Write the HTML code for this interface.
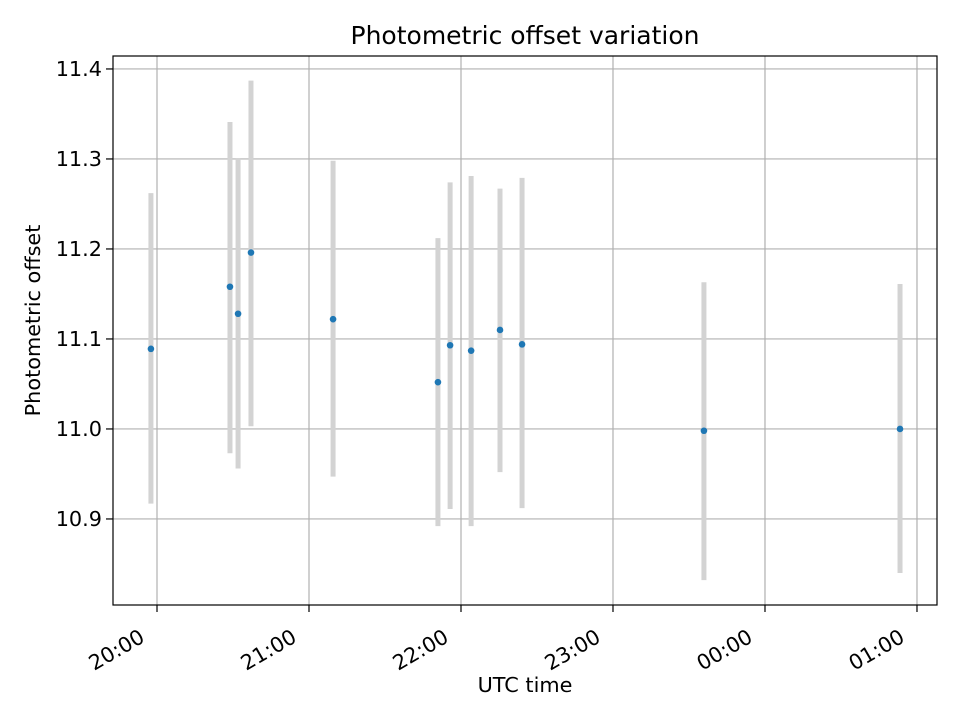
<!DOCTYPE html>
<html><head><meta charset="utf-8"><style>
body{margin:0;background:#fff;}
svg text{font-family:"DejaVu Sans","Liberation Sans",sans-serif;fill:#000;}
</style></head><body>
<svg id="chart" width="960" height="720" xmlns="http://www.w3.org/2000/svg"></svg>
<script>
const timesMin=[-2.4,28.8,32.0,37.1,69.5,110.9,115.7,124.0,135.4,144.1,215.9,293.3];
const values=[11.089,11.158,11.128,11.196,11.122,11.052,11.093,11.087,11.110,11.094,10.998,11.000];
const upper=[11.262,11.341,11.301,11.387,11.298,11.212,11.274,11.281,11.267,11.279,11.163,11.161];
const lower=[10.917,10.973,10.956,11.003,10.947,10.892,10.911,10.892,10.952,10.912,10.832,10.840];
const yTicks=[10.9,11.0,11.1,11.2,11.3,11.4];
const xTicksMin=[0,60,120,180,240,300];
const xTickLabels=["20:00","21:00","22:00","23:00","00:00","01:00"];
const L=113,R=937,T=56,B=605;
const xMin=-17.37,xMax=307.9,yMin=10.8044,yMax=11.4144;
const X=v=>L+(v-xMin)/(xMax-xMin)*(R-L);
const Y=v=>B-(v-yMin)/(yMax-yMin)*(B-T);
const svg=document.getElementById('chart');
const NS='http://www.w3.org/2000/svg';
function mk(tag,attrs,name,txt){const e=document.createElementNS(NS,tag);for(const k in attrs)e.setAttribute(k,attrs[k]);


if(txt!==undefined)e.textContent=txt;svg.appendChild(e);return e;}
mk('rect',{x:L,y:T,width:R-L,height:B-T,fill:'#fff'},'plot-area');
yTicks.forEach(t=>{const y=Y(t);
mk('line',{x1:L,x2:R,y1:y,y2:y,stroke:'#b0b0b0','stroke-width':1.2},'y-gridline');
mk('line',{x1:L-7,x2:L,y1:y,y2:y,stroke:'#000','stroke-width':1.2},'y-tick');
mk('text',{x:L-11,y:y+7,'text-anchor':'end','font-size':20.8},'y-tick-label',t.toFixed(1));});
xTicksMin.forEach((t,i)=>{const x=X(t);
mk('line',{x1:x,x2:x,y1:T,y2:B,stroke:'#b0b0b0','stroke-width':1.2},'x-gridline');
mk('line',{x1:x,x2:x,y1:B,y2:B+7,stroke:'#000','stroke-width':1.2},'x-tick');
mk('text',{x:x-11,y:B+36,'text-anchor':'end','font-size':20.8,transform:`rotate(-30 ${x-11} ${B+36})`},'x-tick-label',xTickLabels[i]);});
timesMin.forEach((t,i)=>{const x=X(t);
mk('line',{x1:x,x2:x,y1:Y(upper[i]),y2:Y(lower[i]),stroke:'#d3d3d3','stroke-width':5},'error-bar');});
timesMin.forEach((t,i)=>{
mk('circle',{cx:X(t),cy:Y(values[i]),r:3.3,fill:'#1f77b4'},'data-point');});
mk('rect',{x:L,y:T,width:R-L,height:B-T,fill:'none',stroke:'#000','stroke-width':1.2},'axes-frame');
mk('text',{x:(L+R)/2,y:44,'text-anchor':'middle','font-size':25},'chart-title','Photometric offset variation');
mk('text',{x:(L+R)/2,y:692,'text-anchor':'middle','font-size':20.8},'x-axis-title','UTC time');
mk('text',{x:40,y:(T+B)/2-10,'text-anchor':'middle','font-size':20.8,transform:`rotate(-90 40 ${(T+B)/2-10})`},'y-axis-title','Photometric offset');
</script>
</body></html>
